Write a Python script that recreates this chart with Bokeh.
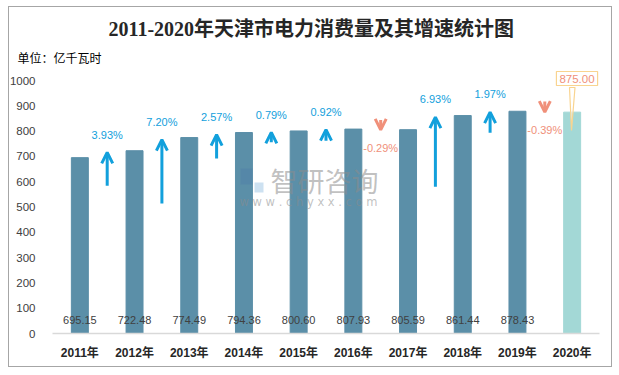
from bokeh.plotting import figure
from bokeh.models import (FactorRange, Range1d, FixedTicker, Label, Arrow, OpenHead,
                          ColumnDataSource, Title, InlineStyleSheet)
from bokeh.core.properties import value
from bokeh.embed import file_html
from bokeh.resources import INLINE

# ---------------- data ----------------
years = ["2011年", "2012年", "2013年", "2014年", "2015年", "2016年", "2017年", "2018年", "2019年", "2020年"]
consumption = [695.15, 722.48, 774.49, 794.36, 800.60, 807.93, 805.59, 861.44, 878.43, 875.00]
growth = [3.93, 7.20, 2.57, 0.79, 0.92, -0.29, 6.93, 1.97, -0.39]
arrow_tail = [584, 514, 692, 756, 762, 844, 580, 793, 917]
arrow_head = [716, 766, 786, 795, 806, 805, 855, 875, 875]
y_ticks = [0, 100, 200, 300, 400, 500, 600, 700, 800, 900, 1000]

BAR = "#5B8FA8"
BAR_LAST = "#A3D8D6"
UP = "#12A0DC"
DOWN = "#F0907A"
SANS = "Liberation Sans, Noto Sans CJK SC"

W, H = 619, 375
L, R, T, B = 52, 20, 64, 42
zero_px = H - B          # y pixel of value 0
px_per_unit = 253 / 1000.0
fw = W - L - R
n = len(years)
ytop = (zero_px - T) / px_per_unit


def px_x(px):
    return (px - L) / fw * n


def px_y(py):
    return (zero_px - py) / px_per_unit


p = figure(x_range=FactorRange(*years), y_range=Range1d(0, ytop), title=None,
           width=W, height=H, output_backend="svg", toolbar_location=None,
           min_border_left=L, min_border_right=R, min_border_top=T, min_border_bottom=B)
p.outline_line_color = None
p.grid.visible = False
p.stylesheets = [InlineStyleSheet(css="""
:host { position: relative; }
:host::after { content: ""; position: absolute; left: 8px; top: 6px; width: 604px; height: 361px;
  box-sizing: border-box; border: 1.5px solid #A6A6A6; pointer-events: none; z-index: 100; }
""")]

# titles (unit text nearest the plot, main title above it)
p.add_layout(Title(text="单位：亿千瓦时", align="left", offset=17 - L, standoff=-3,
                   text_font="Noto Sans CJK SC", text_font_size="12px",
                   text_font_style="normal", text_color="#000000"), "above")
p.add_layout(Title(text="2011-2020年天津市电力消费量及其增速统计图", align="left",
                   offset=108 - L, standoff=18,
                   text_font="Liberation Serif, Noto Sans CJK SC", text_font_style="bold",
                   text_font_size="20px", text_color="#262626"), "above")

# axes
p.yaxis.ticker = FixedTicker(ticks=y_ticks)
p.yaxis.axis_line_color = None
p.yaxis.major_tick_line_color = None
p.yaxis.minor_tick_line_color = None
p.yaxis.major_label_standoff = 11
p.yaxis.major_label_text_font = SANS
p.yaxis.major_label_text_font_size = "11.5px"
p.yaxis.major_label_text_color = "#404040"

p.xaxis.axis_line_color = "#D9D9D9"
p.xaxis.axis_line_width = 1.5
p.xaxis.major_tick_line_color = None
p.xaxis.minor_tick_line_color = None
p.xaxis.major_label_standoff = 6
p.xaxis.major_label_text_font = SANS
p.xaxis.major_label_text_font_size = "12px"
p.xaxis.major_label_text_font_style = "bold"
p.xaxis.major_label_text_color = "#262626"

# bars
colors = [BAR] * (n - 1) + [BAR_LAST]
src = ColumnDataSource(dict(x=years, top=consumption, color=colors,
                            lbl=["%.2f" % v for v in consumption[:-1]] + [""]))
p.vbar(x="x", top="top", width=0.31, color="color", source=src)
p.text(x="x", y=55, text="lbl", source=src, text_align="center", text_baseline="middle",
       text_font=value(SANS), text_font_size="11px", text_color="#404040")

# watermark
p.add_layout(Label(x=px_x(270), y=px_y(180), text="智研咨询", text_font="Noto Sans CJK SC",
                   text_font_size="27px", text_color="#8C8C8C", text_alpha=0.55,
                   text_baseline="middle", text_align="left"))
p.add_layout(Label(x=px_x(239), y=px_y(201), text="w w w . c h y x x . c o m", text_font="DejaVu Sans",
                   text_font_size="11.5px", text_color="#8C8C8C", text_alpha=0.55,
                   text_baseline="middle", text_align="left"))
p.quad(left=[px_x(240), px_x(254)], right=[px_x(252), px_x(263)],
       top=[px_y(168), px_y(182)], bottom=[px_y(184), px_y(192)],
       fill_color=["#4A78A8", "#6FA8D8"], fill_alpha=0.35, line_alpha=0)

# growth arrows
for i, (g, t0, t1) in enumerate(zip(growth, arrow_tail, arrow_head)):
    c = UP if g >= 0 else DOWN
    xm = i + 1.0
    p.add_layout(Arrow(x_start=xm, y_start=t0, x_end=xm, y_end=t1, line_color=c, line_width=3,
                       end=OpenHead(size=11, line_color=c, line_width=3)))
    ly = t1 + 70 if g >= 0 else t1 - 70
    p.text(x=[xm], y=[ly], text=["%.2f%%" % g], text_align="center", text_baseline="middle",
           text_font=value(SANS), text_font_size="11px", text_color=c)

# callout for last year
p.patch(x=[px_x(569), px_x(574.5), px_x(571)],
        y=[px_y(87), px_y(87), px_y(130)], fill_color="white", fill_alpha=0.6,
        line_color="#F9D490", line_width=1.2)
p.add_layout(Label(x=px_x(576.5), y=px_y(78), text="%.2f" % consumption[-1], text_align="center",
                   text_baseline="middle", text_font=SANS, text_font_size="11.5px",
                   text_color=DOWN, border_line_color="#F9D490", border_line_width=1.2,
                   background_fill_color="white", padding=3))

open("out.html", "w").write(file_html(p, INLINE))
